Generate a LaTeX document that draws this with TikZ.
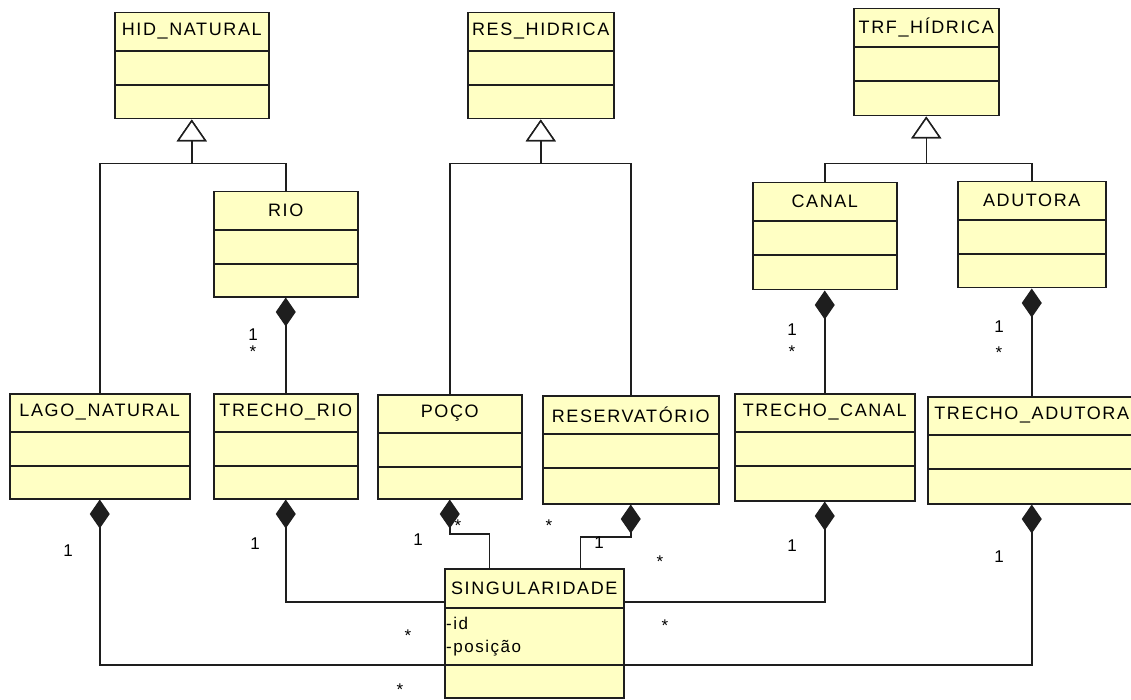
\documentclass[tikz,border=0pt]{standalone}
\usepackage{fontspec}
\usepackage{tikz}
\usetikzlibrary{arrows.meta}
\newfontfamily\umlfont[LetterSpace=9]{Liberation Sans}
\newfontfamily\multfont{Liberation Sans}
\definecolor{classfill}{RGB}{255,255,196}
\definecolor{classline}{RGB}{30,30,30}
\tikzset {
  % class boxes and their compartments
  cls/.style = {draw=classline, fill=classfill, line width=1.5pt, anchor=north west, inner sep=0pt},
  clsname/.style = {font=\umlfont\fontsize{18}{21}\selectfont, inner sep=0pt},
  attr/.style = {font=\umlfont\fontsize{17}{20}\selectfont, anchor=west, inner sep=0pt},
  sep/.style = {draw=classline, line width=1.5pt},
  % generalization and composition
  gen/.style = {draw=classline, line width=1.5pt, -{Triangle[open, length=22pt, width=30pt, fill=white]}},
  comp/.style = {draw=classline, line width=1.5pt, {Diamond[length=29pt, width=20pt]}-},
  % multiplicities
  mult/.style = {font=\multfont\fontsize{17}{20}\selectfont, inner sep=0pt},
  many/.style = {mult, yshift=-3pt},
}
% class box: name, left, top, right, bottom, title
\newcommand{\umlclass}[6]{%
  \node[cls, minimum width={(#4-#2)*1pt}, minimum height={(#5-#3)*1pt}] (#1) at (#2,#3) {};
  \node[clsname] (#1-name) at ([yshift=-19.5pt]#1.north) {#6};
  \draw[sep] ([yshift=-39pt]#1.north west) -- ([yshift=-39pt]#1.north east);
  \draw[sep] ([yshift=-73pt]#1.north west) -- ([yshift=-73pt]#1.north east);
}

\begin{document}
\begin{tikzpicture}[x=1pt, y=-1pt]
  \useasboundingbox (0,0) rectangle (1131,700);

  \umlclass{hidnat}{114}{12}{268}{118}{HID\_NATURAL}
  \umlclass{reshid}{467}{12}{613}{118}{RES\_HIDRICA}
  \umlclass{trfhid}{853}{8}{998}{115}{TRF\_HÍDRICA}

  \umlclass{rio}{213}{191}{357}{296}{RIO}
  \umlclass{canal}{752}{182}{896}{289}{CANAL}
  \umlclass{adutora}{957}{181}{1105}{287}{ADUTORA}

  \umlclass{lago}{9}{393}{189}{498}{LAGO\_NATURAL}
  \umlclass{trechorio}{213}{393}{357}{498}{TRECHO\_RIO}
  \umlclass{poco}{377}{394}{521}{498}{POÇO}
  \umlclass{reserv}{542}{395}{718}{503}{RESERVATÓRIO}
  \umlclass{trechocanal}{734}{393}{914}{500}{TRECHO\_CANAL}
  \umlclass{trechoadut}{927}{396}{1135}{503}{TRECHO\_ADUTORA}

  \node[cls, minimum width=179pt, minimum height=129pt] (sing) at (444,568) {};
  \node[clsname] (sing-name) at ([yshift=-20pt]sing.north) {SINGULARIDADE};
  \draw[sep] ([yshift=-40pt]sing.north west) -- ([yshift=-40pt]sing.north east);
  \draw[sep] ([yshift=-97pt]sing.north west) -- ([yshift=-97pt]sing.north east);
  \node[attr] (sing-id) at ([xshift=2pt, yshift=-55pt]sing.north west) {-id};
  \node[attr] (sing-pos) at ([xshift=2pt, yshift=-80pt]sing.north west) {-posição};

  % generalizations
  \draw[gen] (lago.north) |- ([yshift=-44pt]hidnat.south) -- (hidnat.south);
  \draw[gen] (rio.north) |- ([yshift=-44pt]hidnat.south) -- (hidnat.south);
  \draw[gen] (poco.north) |- ([yshift=-44pt]reshid.south) -- (reshid.south);
  \draw[gen] (reserv.north) |- ([yshift=-44pt]reshid.south) -- (reshid.south);
  \draw[gen] (canal.north) |- ([yshift=-47pt]trfhid.south) -- (trfhid.south);
  \draw[gen] (adutora.north) |- ([yshift=-47pt]trfhid.south) -- (trfhid.south);

  % compositions
  \draw[comp] (rio.south) -- (trechorio.north);
  \draw[comp] (canal.south) -- (trechocanal.north);
  \draw[comp] (adutora.south) -- (trechoadut.north);

  \draw[comp] (lago.south) |- ([yshift=-31.5pt]sing.west);
  \draw[comp] (trechorio.south) |- ([yshift=31.5pt]sing.west);
  \draw[comp] (poco.south) |- ([xshift=-45pt, yshift=34pt]sing.north) -- ([xshift=-45pt]sing.north);
  \draw[comp] (reserv.south) |- ([xshift=46pt, yshift=31pt]sing.north) -- ([xshift=46pt]sing.north);
  \draw[comp] (trechocanal.south) |- ([yshift=31.5pt]sing.east);
  \draw[comp] (trechoadut.south) |- ([yshift=-31.5pt]sing.east);

  % multiplicities
  \node[mult] (m-rio) at (253,335) {1};
  \node[many] (s-rio) at (253,349) {*};
  \node[mult] (m-canal) at (792,330) {1};
  \node[many] (s-canal) at (792,349) {*};
  \node[mult] (m-adut) at (999,327) {1};
  \node[many] (s-adut) at (999,350) {*};

  \node[mult] (m-lago) at (68,551) {1};
  \node[mult] (m-trechorio) at (255,544) {1};
  \node[mult] (m-poco) at (418,540) {1};
  \node[many] (s-poco) at (458,523) {*};
  \node[many] (s-reserv) at (549,523) {*};
  \node[mult] (m-reserv) at (599,543) {1};
  \node[many] (s-canalb) at (660,559) {*};
  \node[mult] (m-trechocanal) at (792,546) {1};
  \node[mult] (m-trechoadut) at (999,557) {1};
  \node[many] (s-rioleft) at (408,633) {*};
  \node[many] (s-canalright) at (665,623) {*};
  \node[many] (s-lagobottom) at (400,687) {*};
\end{tikzpicture}
\end{document}
